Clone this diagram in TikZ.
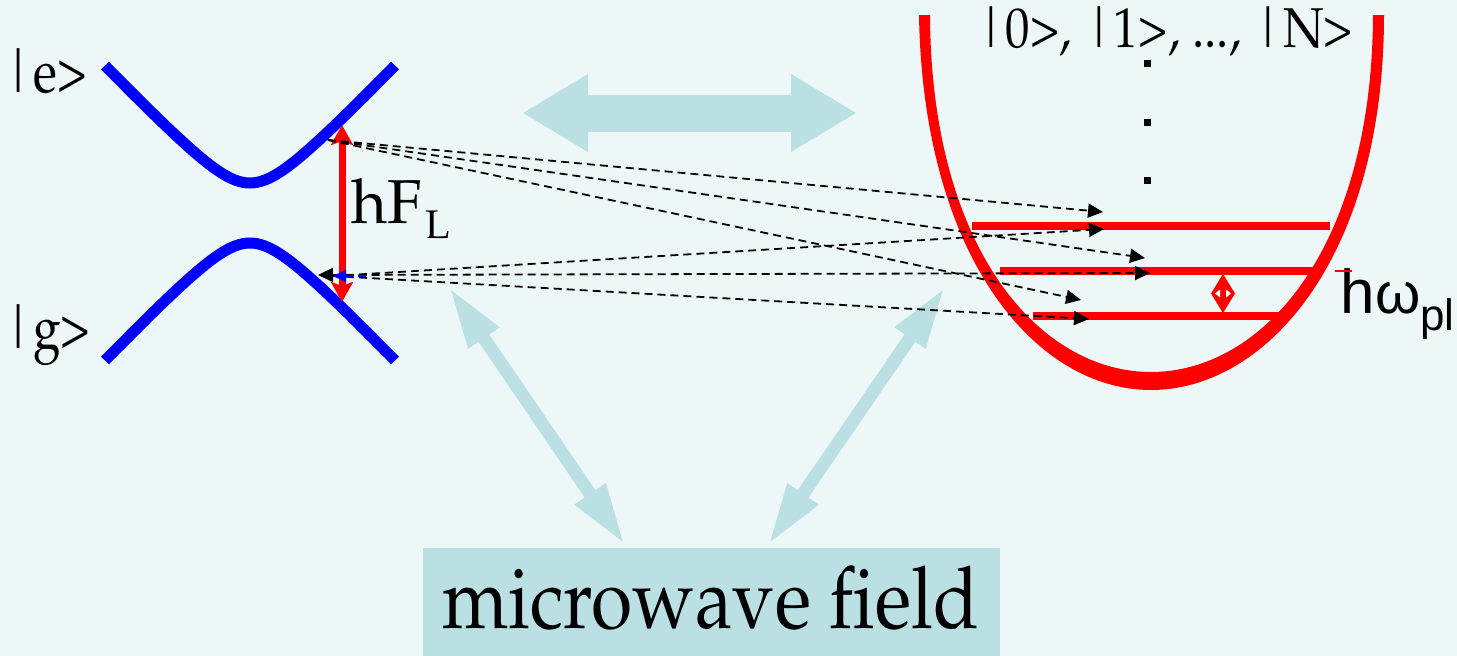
\documentclass[tikz,border=0pt]{standalone}
\usepackage[T1]{fontenc}
\usepackage{fontspec}
\newfontfamily\sansf{Liberation Sans}
\newcommand\pal{\fontencoding{T1}\fontfamily{ppl}\selectfont}
\usetikzlibrary{arrows.meta}
\definecolor{bgc}{RGB}{238,247,248}
\definecolor{lb}{RGB}{187,224,227}
\begin{document}
\begin{tikzpicture}[x=1pt,y=-1pt,
  lbl/.style={inner sep=0pt, anchor=base west},
  dl/.style={black, line width=1.8pt, dash pattern=on 8pt off 5pt, -{Triangle[length=15pt,width=14pt]}},
  bigarrow/.style={lb, line width=37pt, {Triangle[length=66pt,width=73pt]}-{Triangle[length=66pt,width=73pt]}},
  diagarrow/.style={lb, line width=13pt, {Triangle[length=62pt,width=34pt]}-{Triangle[length=62pt,width=34pt]}},
  level/.style={red, line width=7.5pt},
  band/.style={blue, line width=11pt}]
\fill[bgc] (0,0) rectangle (1457,656);
\useasboundingbox (0,0) rectangle (1457,656);

% light blue arrows and box
\node[fill=lb, inner sep=0pt, minimum width=577pt, minimum height=108pt, anchor=north west] (mw) at (423,548) {};
\node[lbl, font=\pal\fontsize{75}{75}\selectfont] (mwt) at (442,628) {\scalebox{1}[1.15]{microwave field}};
\coordinate (hl) at (522,113);
\coordinate (hr) at (857,113);
\draw[bigarrow] (hl) -- (hr);
\coordinate (dlt) at (449,287);
\coordinate (dlb) at (625,545);
\coordinate (drt) at (945,287);
\coordinate (drb) at (768,545);
\draw[diagarrow] (dlt) -- (dlb);
\draw[diagarrow] (drt) -- (drb);

% atom bands
\draw[band] plot[domain=-145:145, samples=81, smooth] ({250+\x},{183-1.05*(10*sqrt(14.44+(\x/10)*(\x/10))-38)});
\draw[band] plot[domain=-145:145, samples=81, smooth] ({250+\x},{243+1.05*(10*sqrt(14.44+(\x/10)*(\x/10))-38)});

\node[lbl, font=\pal\fontsize{54}{54}\selectfont] (e) at (3,92) {\scalebox{0.92}[1.12]{|e>}};
\node[lbl, font=\pal\fontsize{54}{54}\selectfont] (g) at (3,348) {\scalebox{0.92}[1.12]{|g>}};

% transition
\coordinate (fa) at (342,125);
\coordinate (fb) at (342,302);
\draw[red, line width=7pt, {Stealth[length=20pt,width=22pt,inset=4pt]}-{Stealth[length=20pt,width=22pt,inset=4pt]}] (fa) -- (fb);
\node[lbl, font=\pal\fontsize{62}{62}\selectfont] (hf) at (351,223) {hF};
\node[lbl, font=\pal\fontsize{40}{40}\selectfont] (hfl) at (425,238) {L};

% oscillator
\fill[red] (919,15) .. controls (923,258) and (1036,390) .. (1151,390)
  .. controls (1266,390) and (1384,258) .. (1384,15) -- (1373,15)
  .. controls (1372,250) and (1262,372) .. (1151,372)
  .. controls (1040,372) and (931,250) .. (930,15) -- cycle;
\coordinate (l1a) at (972,226); \coordinate (l1b) at (1330,226);
\coordinate (l2a) at (1000,271); \coordinate (l2b) at (1320,271);
\coordinate (l3a) at (1033,316); \coordinate (l3b) at (1287,316);
\draw[level] (l1a) -- (l1b);
\draw[level] (l2a) -- (l2b);
\draw[level] (l3a) -- (l3b);
\coordinate (wa) at (1223,274);
\coordinate (wb) at (1223,313);
\fill[red] (wa) -- (1235,293.5) -- (wb) -- (1211,293.5) -- cycle;
\fill[white] (1215,293.5) -- (1220,289.5) -- (1220,297.5) -- cycle;
\fill[white] (1231,293.5) -- (1226,289.5) -- (1226,297.5) -- cycle;
\foreach \yy in {63,122,180} \fill[black] (1144,\yy-3.5) rectangle (1151,\yy+3.5);
\node[lbl, font=\pal\fontsize{52}{52}\selectfont] (fock) at (976,47) {\scalebox{0.94}[1.08]{|0>, |1>, ..., |N>}};

\node[lbl, font=\sansf\fontsize{62}{62}\selectfont] (hb) at (1340,313) {h};
\draw[red, line width=2pt] (1335,271) -- (1352,271);
\node[lbl, font=\sansf\fontsize{58}{58}\selectfont] (om) at (1375,313) {ω};
\node[lbl, font=\sansf\fontsize{44}{44}\selectfont] (pl) at (1420,330) {pl};

% dashed couplings
\coordinate (t0) at (328,140);
\coordinate (g0) at (318,275);
\coordinate (g1) at (333,276);
\coordinate (gb) at (366,276);
\coordinate (e1) at (1103,212);
\coordinate (e2) at (1145,258);
\coordinate (e3) at (1081,300);
\coordinate (f1) at (1104,229);
\coordinate (f2) at (1150,273);
\coordinate (f3) at (1089,319);
\draw[dl] (t0) -- (e1);
\draw[dl] (t0) -- (e2);
\draw[dl] (t0) -- (e3);
\draw[dl, {Triangle[length=15pt,width=14pt]}-{Triangle[length=15pt,width=14pt]}] (g0) -- (f2);
\draw[dl] (g1) -- (f1);
\draw[dl] (g1) -- (f3);
\draw[blue, line width=1.8pt, dash pattern=on 8pt off 5pt, -{Triangle[length=13pt,width=12pt]}] (gb) -- (g1);
\end{tikzpicture}
\end{document}
